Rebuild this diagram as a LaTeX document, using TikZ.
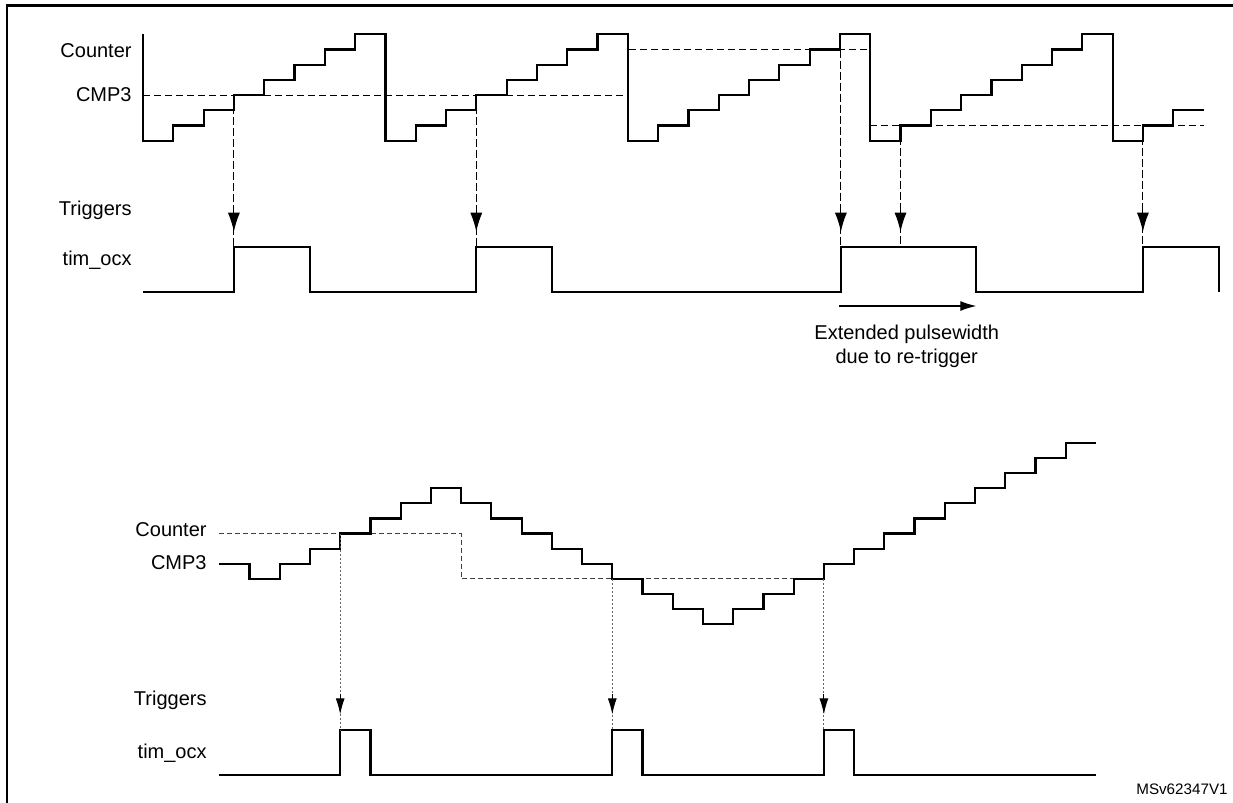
\documentclass[tikz,border=0pt]{standalone}
\usepackage{fontspec}
\setmainfont{Liberation Sans}
\usetikzlibrary{arrows.meta,positioning}

\begin{document}
\begin{tikzpicture}[
  x=0.5pt, y=-0.5pt,
  font=\fontsize{10}{12.15}\selectfont,
  wave/.style={line width=1.1pt, line join=miter},
  cmpline/.style={line width=0.55pt, dash pattern=on 3.5pt off 2pt},
  cmpthin/.style={line width=0.5pt, black!75, dash pattern=on 2.5pt off 1.5pt},
  trig/.style={line width=0.55pt, dash pattern=on 4pt off 1.5pt},
  trigdot/.style={line width=0.45pt, black!60, dash pattern=on 1pt off 1pt},
  tip/.style={-{Latex[length=9.5pt,width=6pt]}, line width=0.55pt},
  tipsmall/.style={-{Latex[length=8pt,width=4.5pt]}, line width=0.45pt},
  lbl/.style={anchor=base east, inner sep=0pt}
]
\useasboundingbox (0,0) rectangle (1233,803);
\draw[line width=1.2pt] (7,803) -- (7,5.5) -- (1233,5.5);

% upper diagram: up-counting with re-trigger
\node[lbl] (lcnta) at (132,57.3) {Counter};
\node[lbl] (lcmpa) at (132,101.7) {CMP3};
\node[lbl] (ltrga) at (132,215) {Triggers};
\node[lbl] (locxa) at (132,265) {tim\_ocx};

\draw[cmpline] (143,95.1) -- (628.8,95.1);
\draw[cmpline] (628.8,49.5) -- (870.2,49.5);
\draw[cmpline] (870.2,125.5) -- (1203.5,125.5);

\draw[wave] (143,34.3)
  \foreach \s [evaluate=\s as \k using {int(mod(\s,8))}] in {0,...,34}
    { -- ({143+30.3*\s},{140.7-15.2*\k}) -- ({143+30.3*(\s+1)},{140.7-15.2*\k}) };

\draw[wave] (143,291.7) -| (233.9,246.7) -| (309.6,291.7) -| (476.3,246.7)
  -| (552,291.7) -| (840.9,246.7) -| (976.3,291.7) -| (1142.9,246.7)
  -| (1218.6,291.7);

\foreach \x/\yc [count=\i] in {233.9/95.1, 476.3/95.1, 840.9/49.5, 900.5/125.5, 1142.9/125.5}{
  \coordinate (cmp\i) at (\x,\yc);
  \coordinate (hit\i) at (\x,231.7);
  \coordinate (ocx\i) at (\x,246.7);
  \draw[trig] (cmp\i) -- (ocx\i);
  \draw[tip] ([yshift=11pt]hit\i) -- (hit\i);
}

\coordinate (ext0) at (839.4,306);
\coordinate (ext1) at (976.3,306);
\draw[-{Latex[length=8pt,width=5pt]}, line width=0.6pt] (ext0) -- (ext1);
\node[align=center, anchor=north, inner sep=0pt] (lext) at (906.7,324.5)
  {Extended pulsewidth\\due to re-trigger};

% lower diagram: up/down counting
\node[lbl] (lcntb) at (207,536.7) {Counter};
\node[lbl] (lcmpb) at (207,569.3) {CMP3};
\node[lbl] (ltrgb) at (207,705) {Triggers};
\node[lbl] (locxb) at (207,758.3) {tim\_ocx};

\draw[cmpthin] (219.3,533.5) -- (461.1,533.5) -- (461.1,578.8) -- (823.9,578.8);

\draw[wave] (219.3,563.7)
  \foreach \k [count=\i from 0] in {0,-1,0,1,2,3,4,5,4,3,2,1,0,-1,-2,-3,-4,-3,-2,-1,0,1,2,3,4,5,6,7,8}
    { -- ({219.3+30.23*\i},{563.7-15.1*\k}) -- ({219.3+30.23*(\i+1)},{563.7-15.1*\k}) };

\draw[wave] (219.3,775.3) -| (340.2,730) -| (370.4,775.3) -| (612.3,730)
  -| (642.5,775.3) -| (823.9,730) -| (854.1,775.3) -- (1096,775.3);

\foreach \x/\yc [count=\i] in {340.2/533.5, 612.3/578.8, 823.9/578.8}{
  \coordinate (bcmp\i) at (\x,\yc);
  \coordinate (bhit\i) at (\x,714.3);
  \coordinate (bocx\i) at (\x,730);
  \draw[trigdot] (bcmp\i) -- (bocx\i);
  \draw[tipsmall] ([yshift=10pt]bhit\i) -- (bhit\i);
}

\node[lbl, font=\fontsize{7.6}{9}\selectfont] (lref) at (1228,794.3) {MSv62347V1};
\end{tikzpicture}
\end{document}
